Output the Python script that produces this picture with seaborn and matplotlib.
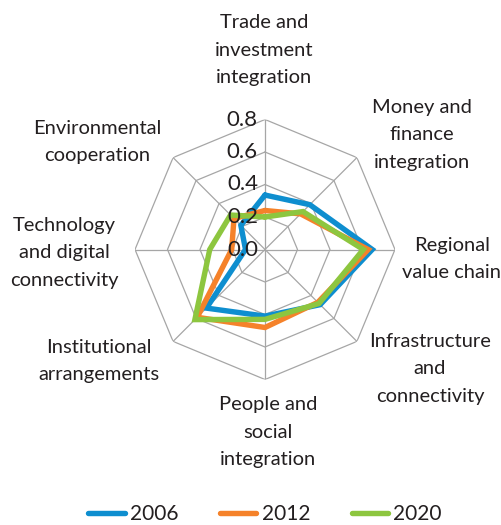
"""
Radar chart of regional integration dimensions for 2006, 2012 and 2020.
"""
# Import Standard Libraries
import numpy as np
import matplotlib
import matplotlib.pyplot as plt
import seaborn as sns

matplotlib.use('Agg')

# Chart data
categories = ['Trade and\ninvestment\nintegration',
              'Money and\nfinance\nintegration',
              'Regional\nvalue chain',
              'Infrastructure\nand\nconnectivity',
              'People and\nsocial\nintegration',
              'Institutional\narrangements',
              'Technology\nand digital\nconnectivity',
              'Environmental\ncooperation']
years = ['2006', '2012', '2020']
values_2006 = [0.335, 0.39, 0.66, 0.48, 0.41, 0.51, 0.12, 0.21]
values_2012 = [0.24, 0.31, 0.635, 0.46, 0.48, 0.59, 0.205, 0.27]
values_2020 = [0.20, 0.33, 0.605, 0.47, 0.43, 0.61, 0.34, 0.30]
tick_values = [0.0, 0.2, 0.4, 0.6, 0.8]
tick_labels = ['0.0', '0.2', '0.4', '0.6', '0.8']

# Styling
colors = ['#0E8ECF', '#F5822A', '#8DC63F']
grid_color = '#A6A6A6'
text_color = '#231F20'

# Label centres in pixels (x, y from top-left)
label_pixels = [(264, 50), (422, 135), (452, 259), (430, 369),
                (268, 432), (99, 361), (64, 253), (97, 142)]

# Set the theme
sns.set_theme(style='white')
plt.rcParams['font.family'] = ['Lato', 'DejaVu Sans']

fig_w, fig_h = 502, 525
fig = plt.figure(figsize=(fig_w / 100, fig_h / 100), dpi=100)

# Polar axes placed so that the centre sits at (265, 249.5) px with radius 130 px
cx, cy, rad = 265, 249.5, 130
ax = fig.add_axes([(cx - rad) / fig_w, (fig_h - cy - rad) / fig_h,
                   2 * rad / fig_w, 2 * rad / fig_h], projection='polar')
ax.set_theta_zero_location('N')
ax.set_theta_direction(-1)
ax.set_ylim(0, 0.8)
ax.set_facecolor('none')
ax.spines['polar'].set_visible(False)

n = len(categories)
angles = np.linspace(0, 2 * np.pi, n, endpoint=False)
closed_angles = np.append(angles, angles[0])

# Spokes from the angular grid
ax.set_xticks(angles)
ax.set_xticklabels([])
ax.xaxis.grid(True, color=grid_color, linewidth=0.9)
ax.yaxis.grid(False)
ax.set_yticks([])
ax.tick_params(length=0)

# Octagonal rings
for level in tick_values[1:]:
    ax.plot(closed_angles, [level] * (n + 1), color=grid_color,
            linewidth=0.9, zorder=1)

# Series lines
for year, values, color in zip(years, [values_2006, values_2012, values_2020], colors):
    ax.plot(closed_angles, values + values[:1], color=color, linewidth=3.9,
            solid_joinstyle='miter', label=year, zorder=3)

# Radial tick labels along the top spoke
for value, label in zip(tick_values, tick_labels):
    x_pix = cx - 7
    y_pix = cy - value / 0.8 * rad
    fig.text(x_pix / fig_w, 1 - y_pix / fig_h, label, ha='right', va='center',
             fontsize=16, color=text_color, zorder=4)

# Category labels
for label, (x_pix, y_pix) in zip(categories, label_pixels):
    fig.text(x_pix / fig_w, 1 - y_pix / fig_h, label, ha='center', va='center',
             multialignment='center', fontsize=14.5, color=text_color,
             linespacing=1.74)

# Legend
legend = fig.legend(loc='center', bbox_to_anchor=(265 / fig_w, 1 - 514 / fig_h),
                    ncol=3, frameon=False, fontsize=15, handlelength=1.75,
                    handletextpad=0.25, columnspacing=2.0)
for text in legend.get_texts():
    text.set_color(text_color)

fig.savefig('out.png', dpi=100)
